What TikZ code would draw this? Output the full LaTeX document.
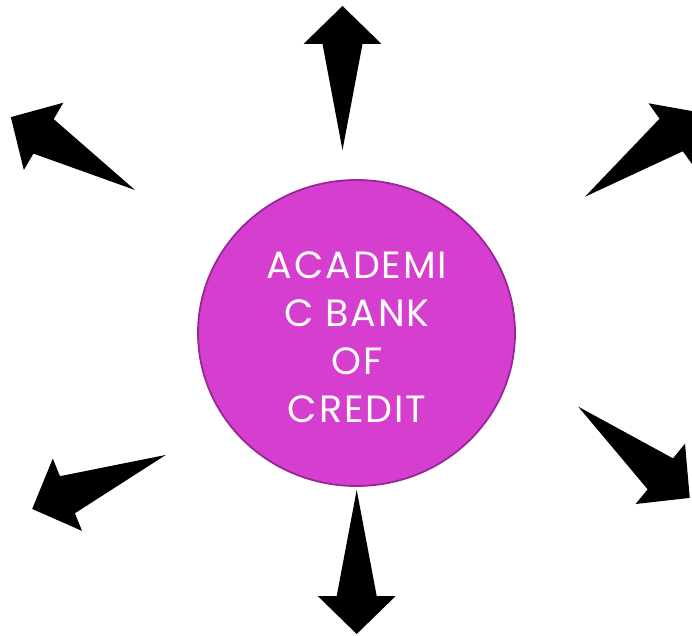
\documentclass[tikz,border=0pt]{standalone}
\usepackage{fontspec}
\setmainfont{Poppins}
\usetikzlibrary{shapes.geometric}
\definecolor{bankfill}{RGB}{213,62,206}
\definecolor{bankline}{RGB}{150,40,150}
\tikzset{
  x=1pt,y=1pt,
  bigarrow/.pic={
    \fill[black] (0,0) -- (106,20) -- (106,39) -- (144,0) -- (106,-39) -- (106,-20) -- cycle;
  },
  bank/.style={ellipse, fill=bankfill, draw=bankline, line width=1.8pt,
    minimum width=317pt, minimum height=306pt, inner sep=0pt},
  banktext/.style={text=white, align=center, inner sep=0pt,
    font=\fontsize{38}{48}\selectfont\addfontfeatures{LetterSpace=5}}
}
\begin{document}
\begin{tikzpicture}
\useasboundingbox (0,0) rectangle (692,635);
\begin{scope}
\clip (0,0) rectangle (692,635);
\coordinate (tTop) at (342.5,485);
\coordinate (tTopLeft) at (135,445);
\coordinate (tTopRight) at (585,438.3);
\coordinate (tBotLeft) at (165.7,180);
\coordinate (tBotRight) at (578.3,228.3);
\coordinate (tBot) at (356.7,145);
\pic[rotate=90] at (tTop) {bigarrow};
\pic[rotate=149.6] at (tTopLeft) {bigarrow};
\pic[rotate=35.6] at (tTopRight) {bigarrow};
\pic[rotate=202] at (tBotLeft) {bigarrow};
\pic[rotate=-39.3] at (tBotRight) {bigarrow};
\pic[rotate=-90] at (tBot) {bigarrow};
\end{scope}
\node[bank] (circle) at (356.5,302) {};
\node[banktext] (label) at (357,298) {ACADEMI\\C BANK\\OF\\CREDIT};
\end{tikzpicture}
\end{document}
